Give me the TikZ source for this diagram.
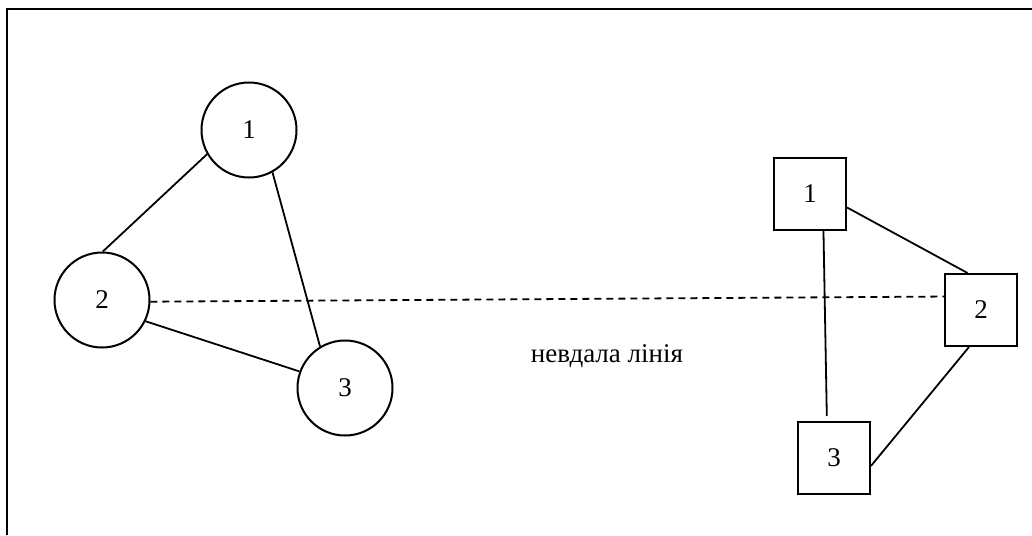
\documentclass[tikz,border=0pt]{standalone}
\usepackage{fontspec}
\setmainfont{Liberation Serif}
\begin{document}
\begin{tikzpicture}[x=1pt,y=-1pt,
  every node/.style={font=\fontsize{27}{30}\selectfont},
  circ/.style={draw,circle,line width=2pt,minimum size=95pt,inner sep=0pt},
  sq/.style={draw,rectangle,line width=2pt,minimum size=72pt,inner sep=0pt},
  conn/.style={line width=1.8pt},
  dashconn/.style={line width=1.8pt,dash pattern=on 7pt off 5pt}]
\useasboundingbox (0,0) rectangle (1032,535);
\draw[line width=2.5pt] (1032,9) -- (7,9) -- (7,535);
\node[circ] (c1) at (249,130) {1};
\node[circ] (c2) at (102,300) {2};
\node[circ] (c3) at (345,388) {3};
\node[sq] (s1) at (810,194) {1};
\node[sq] (s2) at (981,310) {2};
\node[sq] (s3) at (834,458) {3};
\node (lbl) at (607,356) {невдала лінія};
\draw[conn] (c1.210) -- (c2.89);
\draw[conn] (c1.299) -- (c3.121);
\draw[conn] (c2.334) -- (c3.160);
\draw[dashconn] (c2.358) -- (s2.160);
\draw[conn] (s1.340) -- (s2.110);
\draw[conn] (s1.290) -- ([yshift=5pt]s3.101);
\draw[conn] (s2.252) -- (s3.348);
\end{tikzpicture}
\end{document}
